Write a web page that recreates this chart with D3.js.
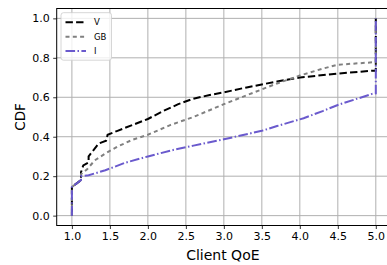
<!DOCTYPE html>
<html>
<head>
<meta charset="utf-8">
<script src="https://cdn.jsdelivr.net/npm/d3@7"></script>
<style>
  body { margin: 0; background: #fff; }
  svg { display: block; font-family: "DejaVu Sans", sans-serif; }
</style>
</head>
<body>
<svg id="chart" width="387" height="265"></svg>
<script>
// series names
let seriesNames = ["V", "GB", "I"];

// client QoE (x) and CDF (y) for each series
let vQoe = [1.0, 1.0, 1.05, 1.12, 1.12, 1.15, 1.22, 1.22, 1.28, 1.35, 1.45, 1.47, 1.6, 1.8, 2.0, 2.2, 2.4, 2.6, 2.8, 3.0, 3.3, 3.7, 4.0, 4.5, 4.95, 5.0, 5.0];
let vCdf = [0.0, 0.145, 0.16, 0.18, 0.22, 0.255, 0.27, 0.30, 0.33, 0.365, 0.38, 0.41, 0.43, 0.46, 0.49, 0.53, 0.565, 0.593, 0.61, 0.625, 0.65, 0.68, 0.70, 0.72, 0.735, 0.735, 1.0];

let gbQoe = [1.0, 1.0, 1.12, 1.12, 1.2, 1.3, 1.44, 1.6, 1.8, 2.0, 2.3, 2.6, 3.0, 3.3, 3.7, 4.0, 4.3, 4.5, 4.95, 5.0, 5.0];
let gbCdf = [0.0, 0.145, 0.18, 0.21, 0.235, 0.28, 0.315, 0.35, 0.385, 0.41, 0.46, 0.50, 0.565, 0.61, 0.67, 0.71, 0.745, 0.765, 0.777, 0.777, 1.0];

let iQoe = [1.0, 1.0, 1.12, 1.12, 1.22, 1.44, 1.7, 2.0, 2.3, 2.6, 3.0, 3.5, 3.7, 4.05, 4.3, 4.5, 4.95, 5.0, 5.0];
let iCdf = [0.0, 0.145, 0.18, 0.20, 0.205, 0.23, 0.268, 0.30, 0.33, 0.355, 0.387, 0.43, 0.454, 0.494, 0.53, 0.561, 0.617, 0.62, 1.0];

let xTicks = [1.0, 1.5, 2.0, 2.5, 3.0, 3.5, 4.0, 4.5, 5.0];
let yTicks = [0.0, 0.2, 0.4, 0.6, 0.8, 1.0];

let series = [
    {name: seriesNames[0], x: vQoe, y: vCdf, color: "#000000", dash: "7.4,3.2"},
    {name: seriesNames[1], x: gbQoe, y: gbCdf, color: "#808080", dash: "4,3.3"},
    {name: seriesNames[2], x: iQoe, y: iCdf, color: "#6a5acd", dash: "9.6,2.4,1.5,2.4"}
];

let svg = d3.select("#chart");
let mLeft = 56.7, mTop = 8.5, mRight = 391, mBottom = 225.5;

let x = d3.scaleLinear().domain([0.8, 5.2]).range([mLeft, mRight]);
let y = d3.scaleLinear().domain([-0.05, 1.05]).range([mBottom, mTop]);

// grid
let grid = svg.append("g");
grid.selectAll(".gx").data(xTicks).enter().append("line")
    .attr("x1", d => x(d)).attr("x2", d => x(d))
    .attr("y1", mTop).attr("y2", mBottom)
    .attr("stroke", "#b0b0b0").attr("stroke-width", 1);
grid.selectAll(".gy").data(yTicks).enter().append("line")
    .attr("x1", mLeft).attr("x2", mRight)
    .attr("y1", d => y(d)).attr("y2", d => y(d))
    .attr("stroke", "#b0b0b0").attr("stroke-width", 1);

// lines
let line = d3.line()
    .x(d => x(d[0]))
    .y(d => y(d[1]));

series.forEach(function(s){
    let pts = s.x.map((v, i) => [v, s.y[i]]);
    svg.append("path")
       .datum(pts)
       .attr("d", line)
       .attr("fill", "none")
       .attr("stroke", s.color)
       .attr("stroke-width", 2)
       .attr("stroke-dasharray", s.dash);
});

// axes
let xAxis = d3.axisBottom(x).tickValues(xTicks).tickFormat(d3.format(".1f")).tickSize(3.5).tickPadding(3.5);
let yAxis = d3.axisLeft(y).tickValues(yTicks).tickFormat(d3.format(".1f")).tickSize(3.5).tickPadding(3.5);

let gx = svg.append("g").attr("transform", `translate(0,${mBottom})`).call(xAxis);
let gy = svg.append("g").attr("transform", `translate(${mLeft},0)`).call(yAxis);
[gx, gy].forEach(function(g){
    g.select(".domain").remove();
    g.selectAll("text").style("font-size", "11px").attr("fill", "#000").style("font-family", "DejaVu Sans");
    g.selectAll("line").attr("stroke", "#000").attr("stroke-width", 0.8);
});

// frame
svg.append("rect")
   .attr("x", mLeft).attr("y", mTop)
   .attr("width", mRight - mLeft).attr("height", mBottom - mTop)
   .attr("fill", "none").attr("stroke", "#000").attr("stroke-width", 1);

// labels
svg.append("text")
   .attr("x", (mLeft + mRight) / 2 - 1).attr("y", 260)
   .attr("text-anchor", "middle")
   .style("font-size", "14px")
   .text("Client QoE");
svg.append("text")
   .attr("transform", `translate(24.5,${(mTop + mBottom) / 2}) rotate(-90)`)
   .attr("text-anchor", "middle")
   .style("font-size", "13.5px")
   .text("CDF");

// legend
let legend = svg.append("g");
legend.append("rect")
      .attr("x", 61).attr("y", 12.7)
      .attr("width", 50.5).attr("height", 47.5)
      .attr("rx", 2.5)
      .attr("fill", "#fff").attr("fill-opacity", 0.8)
      .attr("stroke", "#cccccc").attr("stroke-width", 0.8);
series.forEach(function(s, i){
    let ly = 22.3 + i * 14.4;
    legend.append("line")
          .attr("x1", 65.5).attr("x2", 86)
          .attr("y1", ly).attr("y2", ly)
          .attr("stroke", s.color).attr("stroke-width", 2)
          .attr("stroke-dasharray", s.dash);
    legend.append("text")
          .attr("x", 94).attr("y", ly + 3)
          .style("font-size", "8.5px")
          .text(s.name);
});
</script>
</body>
</html>
